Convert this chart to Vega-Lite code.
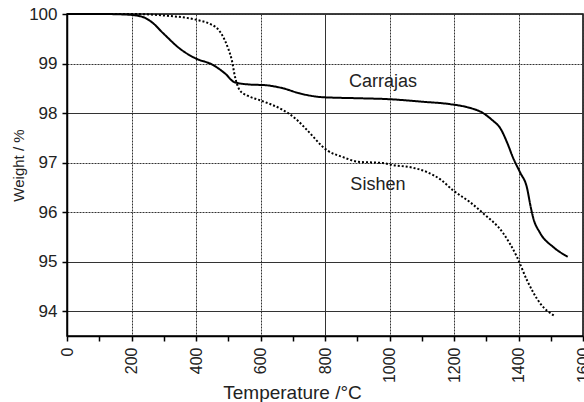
{
  "$schema": "https://vega.github.io/schema/vega-lite/v6.json",
  "width": 516,
  "height": 322,
  "autosize": {"type": "none"},
  "padding": {"left": 67, "top": 14, "right": 1, "bottom": 66},
  "background": "white",
  "config": {
    "view": {"stroke": "black", "strokeWidth": 1.5},
    "font": "Liberation Sans",
    "axis": {
      "domainColor": "black",
      "domainWidth": 1.5,
      "tickColor": "black",
      "tickWidth": 1.5,
      "tickSize": 5,
      "labelColor": "#222",
      "titleColor": "#222",
      "titleFontWeight": "normal",
      "labelFont": "Liberation Sans",
      "titleFont": "Liberation Sans"
    }
  },
  "datasets": {
    "curves": [
      {"series": "Carrajas", "T": 0, "w": 100},
      {"series": "Carrajas", "T": 100, "w": 100},
      {"series": "Carrajas", "T": 180, "w": 99.99},
      {"series": "Carrajas", "T": 230, "w": 99.95},
      {"series": "Carrajas", "T": 260, "w": 99.85},
      {"series": "Carrajas", "T": 300, "w": 99.6},
      {"series": "Carrajas", "T": 350, "w": 99.3},
      {"series": "Carrajas", "T": 400, "w": 99.1},
      {"series": "Carrajas", "T": 450, "w": 98.98},
      {"series": "Carrajas", "T": 490, "w": 98.8},
      {"series": "Carrajas", "T": 520, "w": 98.62},
      {"series": "Carrajas", "T": 560, "w": 98.58},
      {"series": "Carrajas", "T": 620, "w": 98.56},
      {"series": "Carrajas", "T": 670, "w": 98.5},
      {"series": "Carrajas", "T": 720, "w": 98.4},
      {"series": "Carrajas", "T": 794, "w": 98.32},
      {"series": "Carrajas", "T": 900, "w": 98.3},
      {"series": "Carrajas", "T": 1000, "w": 98.28},
      {"series": "Carrajas", "T": 1100, "w": 98.23},
      {"series": "Carrajas", "T": 1188, "w": 98.18},
      {"series": "Carrajas", "T": 1240, "w": 98.12},
      {"series": "Carrajas", "T": 1290, "w": 98.0},
      {"series": "Carrajas", "T": 1320, "w": 97.85},
      {"series": "Carrajas", "T": 1343, "w": 97.7},
      {"series": "Carrajas", "T": 1365, "w": 97.4},
      {"series": "Carrajas", "T": 1383, "w": 97.1},
      {"series": "Carrajas", "T": 1405, "w": 96.8},
      {"series": "Carrajas", "T": 1426, "w": 96.5},
      {"series": "Carrajas", "T": 1438, "w": 96.1},
      {"series": "Carrajas", "T": 1445, "w": 95.9},
      {"series": "Carrajas", "T": 1467, "w": 95.58},
      {"series": "Carrajas", "T": 1507, "w": 95.3},
      {"series": "Carrajas", "T": 1553, "w": 95.1},
      {"series": "Sishen", "T": 0, "w": 100},
      {"series": "Sishen", "T": 200, "w": 100},
      {"series": "Sishen", "T": 300, "w": 99.97},
      {"series": "Sishen", "T": 403, "w": 99.88},
      {"series": "Sishen", "T": 443, "w": 99.8},
      {"series": "Sishen", "T": 470, "w": 99.68},
      {"series": "Sishen", "T": 484, "w": 99.54},
      {"series": "Sishen", "T": 500, "w": 99.3},
      {"series": "Sishen", "T": 511, "w": 99.07},
      {"series": "Sishen", "T": 521, "w": 98.73},
      {"series": "Sishen", "T": 536, "w": 98.46},
      {"series": "Sishen", "T": 560, "w": 98.35},
      {"series": "Sishen", "T": 598, "w": 98.26},
      {"series": "Sishen", "T": 670, "w": 98.06},
      {"series": "Sishen", "T": 710, "w": 97.88},
      {"series": "Sishen", "T": 744, "w": 97.66},
      {"series": "Sishen", "T": 806, "w": 97.25},
      {"series": "Sishen", "T": 856, "w": 97.11},
      {"series": "Sishen", "T": 900, "w": 97.02},
      {"series": "Sishen", "T": 980, "w": 96.99},
      {"series": "Sishen", "T": 1011, "w": 96.95},
      {"series": "Sishen", "T": 1070, "w": 96.9},
      {"series": "Sishen", "T": 1116, "w": 96.81},
      {"series": "Sishen", "T": 1160, "w": 96.65},
      {"series": "Sishen", "T": 1197, "w": 96.44},
      {"series": "Sishen", "T": 1250, "w": 96.2},
      {"series": "Sishen", "T": 1290, "w": 95.98},
      {"series": "Sishen", "T": 1352, "w": 95.58},
      {"series": "Sishen", "T": 1395, "w": 95.1},
      {"series": "Sishen", "T": 1426, "w": 94.63},
      {"series": "Sishen", "T": 1467, "w": 94.16},
      {"series": "Sishen", "T": 1513, "w": 93.9}
    ],
    "labels": [
      {"series": "Carrajas", "T": 980, "w": 98.63},
      {"series": "Sishen", "T": 964, "w": 96.55}
    ]
  },
  "encoding": {
    "x": {
      "field": "T", "type": "quantitative",
      "scale": {"domain": [0, 1600], "nice": false, "zero": false},
      "axis": {
        "title": "Temperature /°C",
        "titleFontSize": 19,
        "titleX": 225,
        "titleY": 56,
        "titleBaseline": "middle",
        "values": [0,100,200,300,400,500,600,700,800,900,1000,1100,1200,1300,1400,1500,1600],
        "format": "d",
        "labelExpr": "datum.value % 200 === 0 ? datum.label : ''",
        "labelAngle": -90,
        "labelFontSize": 16,
        "labelPadding": 6,
        "labelFlush": false,
        "labelOverlap": false,
        "grid": true,
        "gridColor": "#333",
        "gridWidth": 1,
        "gridOpacity": {"condition": {"test": "datum.value % 200 === 0", "value": 1}, "value": 0},
        "gridDash": {"condition": {"test": "datum.value === 800", "value": []}, "value": [2, 1]}
      }
    },
    "y": {
      "field": "w", "type": "quantitative",
      "scale": {"domain": [93.5, 100], "nice": false, "zero": false},
      "axis": {
        "title": "Weight / %",
        "titleFontSize": 15,
        "titleX": -41,
        "titleY": 151,
        "titleAlign": "center",
        "values": [94,94.5,95,95.5,96,96.5,97,97.5,98,98.5,99,99.5,100],
        "format": "d",
        "labelExpr": "datum.value % 1 === 0 ? datum.label : ''",
        "labelFontSize": 17,
        "labelPadding": 5,
        "labelFlush": false,
        "labelOverlap": false,
        "grid": true,
        "gridColor": "#333",
        "gridWidth": 1,
        "gridOpacity": {"condition": {"test": "datum.value % 1 === 0", "value": 1}, "value": 0},
        "gridDash": {"condition": {"test": "datum.value === 98 || datum.value === 94 || datum.value === 95", "value": []}, "value": [2, 1]}
      }
    }
  },
  "layer": [
    {
      "data": {"name": "curves"},
      "mark": {"type": "line", "interpolate": "monotone", "color": "black", "strokeWidth": 2},
      "encoding": {
        "detail": {"field": "series"},
        "strokeDash": {
          "field": "series", "type": "nominal",
          "scale": {"domain": ["Carrajas", "Sishen"], "range": [[1, 0], [2, 2]]},
          "legend": null
        }
      }
    },
    {
      "data": {"name": "labels"},
      "mark": {"type": "text", "fontSize": 18, "color": "#222", "font": "Liberation Sans", "align": "center", "baseline": "middle"},
      "encoding": {"text": {"field": "series"}}
    }
  ]
}
